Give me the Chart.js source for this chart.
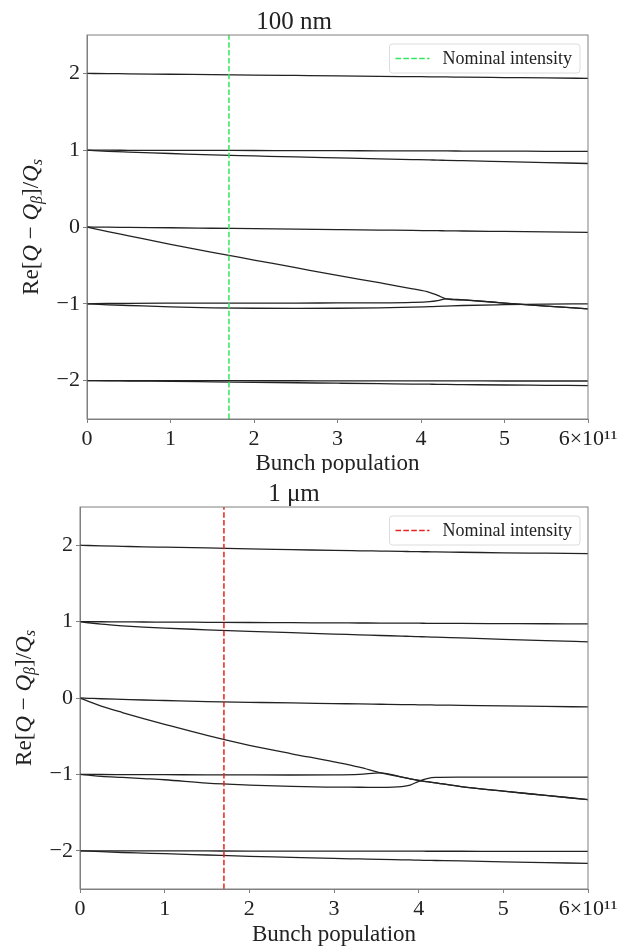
<!DOCTYPE html>
<html lang="en">
<head>
<meta charset="UTF-8">
<title>Re[Q - Q_beta]/Q_s vs bunch population</title>
<script src="https://cdn.jsdelivr.net/npm/chart.js@4.4.1/dist/chart.umd.min.js"></script>
<style>
    html, body { margin: 0; padding: 0; background: #fff; }
    .panel { width: 628px; height: 473px; }
</style>
</head>
<body>
<div class="panel"><canvas id="chart100nm" width="628" height="473"></canvas></div>
<div class="panel"><canvas id="chart1um" width="628" height="473"></canvas></div>
<script>
// ---- data (bunch population in units of 1e11) ----
const xTickValues = [0, 1, 2, 3, 4, 5, 6];
const xTickLabels = ['0', '1', '2', '3', '4', '5', '6\u00d710\u00b9\u00b9'];
const yTickValues = [-2, -1, 0, 1, 2];
const nominalIntensity = 1.7;

// 100 nm panel
const popTop = [0, 0.25, 0.5, 1, 1.5, 2, 2.5, 3, 3.5, 3.9, 4.1, 4.2, 4.3, 4.5, 5, 5.5, 6];
const top_p2  = [2.0, 1.997, 1.995, 1.989, 1.984, 1.978, 1.973, 1.968, 1.962, 1.958, 1.956, 1.955, 1.954, 1.951, 1.946, 1.941, 1.935];
const top_p1a = [1.0, 1.0, 0.999, 0.998, 0.997, 0.996, 0.995, 0.994, 0.992, 0.991, 0.99, 0.99, 0.99, 0.989, 0.988, 0.986, 0.985];
const top_p1b = [1.0, 0.985, 0.975, 0.957, 0.938, 0.925, 0.912, 0.9, 0.888, 0.878, 0.873, 0.871, 0.868, 0.863, 0.851, 0.839, 0.827];
const top_z0a = [0, -0.002, -0.005, -0.01, -0.016, -0.022, -0.028, -0.034, -0.04, -0.045, -0.047, -0.048, -0.05, -0.052, -0.058, -0.064, -0.07];
const top_z0b = [0, -0.06, -0.115, -0.225, -0.33, -0.43, -0.53, -0.63, -0.725, -0.805, -0.85, -0.89, -0.935, -0.95, -0.99, -1.03, -1.065];
const top_m1a = [-1.0, -0.996, -0.994, -0.992, -0.991, -0.99, -0.99, -0.989, -0.988, -0.982, -0.972, -0.958, -0.935, -0.95, -0.99, -1.03, -1.065];
const top_m1c = [-1.0, -1.013, -1.022, -1.04, -1.052, -1.058, -1.06, -1.058, -1.052, -1.043, -1.037, -1.034, -1.03, -1.022, -1.012, -1.005, -1.0];
const top_m2a = [-2.0, -2.0, -2.0, -2.001, -2.001, -2.002, -2.002, -2.003, -2.003, -2.004, -2.004, -2.004, -2.004, -2.004, -2.005, -2.005, -2.005];
const top_m2b = [-2.0, -2.002, -2.005, -2.01, -2.016, -2.022, -2.028, -2.034, -2.04, -2.045, -2.047, -2.048, -2.05, -2.052, -2.057, -2.061, -2.065];

// 1 um panel
const popBot = [0, 0.1, 0.25, 0.5, 0.75, 1, 1.5, 2, 2.5, 3, 3.3, 3.55, 3.8, 3.9, 4.0, 4.1, 4.2, 4.5, 5, 5.5, 6];
const bot_p2  = [2.0, 1.996, 1.991, 1.985, 1.979, 1.974, 1.964, 1.951, 1.942, 1.932, 1.927, 1.923, 1.919, 1.917, 1.915, 1.914, 1.912, 1.908, 1.9, 1.895, 1.89];
const bot_p1a = [1.0, 0.999, 0.998, 0.997, 0.995, 0.994, 0.991, 0.988, 0.986, 0.983, 0.982, 0.981, 0.98, 0.979, 0.979, 0.978, 0.978, 0.976, 0.974, 0.972, 0.97];
const bot_p1b = [1.0, 0.985, 0.966, 0.944, 0.927, 0.914, 0.893, 0.872, 0.855, 0.837, 0.827, 0.818, 0.81, 0.806, 0.803, 0.8, 0.796, 0.786, 0.768, 0.751, 0.735];
const bot_z0a = [0, -0.004, -0.01, -0.018, -0.026, -0.033, -0.047, -0.056, -0.065, -0.073, -0.078, -0.082, -0.086, -0.087, -0.089, -0.09, -0.092, -0.096, -0.104, -0.11, -0.117];
const bot_z0b = [0, -0.045, -0.105, -0.19, -0.27, -0.345, -0.49, -0.62, -0.73, -0.835, -0.905, -0.98, -1.035, -1.06, -1.08, -1.095, -1.11, -1.16, -1.22, -1.275, -1.33];
const bot_m1a = [-1.0, -1.0, -1.001, -1.002, -1.003, -1.004, -1.006, -1.007, -1.008, -1.007, -1.0, -0.98, -1.035, -1.06, -1.08, -1.095, -1.11, -1.16, -1.22, -1.275, -1.33];
const bot_m1c = [-1.0, -1.01, -1.025, -1.04, -1.055, -1.07, -1.115, -1.14, -1.157, -1.167, -1.168, -1.17, -1.16, -1.14, -1.09, -1.055, -1.04, -1.036, -1.035, -1.035, -1.035];
const bot_m2a = [-2.0, -2.0, -2.0, -2.001, -2.001, -2.001, -2.002, -2.003, -2.003, -2.004, -2.004, -2.005, -2.005, -2.005, -2.005, -2.006, -2.006, -2.006, -2.007, -2.007, -2.008];
const bot_m2b = [-2.0, -2.005, -2.012, -2.022, -2.03, -2.038, -2.055, -2.072, -2.085, -2.1, -2.107, -2.113, -2.118, -2.12, -2.123, -2.125, -2.127, -2.133, -2.145, -2.155, -2.165];

// ---- styling ----
const SERIF = "'Liberation Serif', 'DejaVu Serif', serif";
const TEXT = '#222';
const FRAME = '#808080';

// pieces of the y label: Re[Q − Q_β]/Q_s
const yLabelParts = [
    { t: 'Re[', it: false, sub: false },
    { t: 'Q', it: true, sub: false },
    { t: ' \u2212 ', it: false, sub: false },
    { t: 'Q', it: true, sub: false },
    { t: '\u03b2', it: true, sub: true },
    { t: ']/', it: false, sub: false },
    { t: 'Q', it: true, sub: false },
    { t: 's', it: true, sub: true }
];

function modeDataset(xs, ys) {
    return {
        data: xs.map((x, i) => ({ x: x, y: ys[i] })),
        borderColor: TEXT,
        borderWidth: 1.3,
        pointRadius: 0,
        cubicInterpolationMode: 'monotone',
        fill: false
    };
}

function nominalDataset(color) {
    return {
        data: [{ x: nominalIntensity, y: -2.5 }, { x: nominalIntensity, y: 2.5 }],
        borderColor: color,
        borderWidth: 1.5,
        borderDash: [5.5, 2.4],
        pointRadius: 0,
        fill: false,
        order: -1
    };
}

// frame, y label and legend box
const decorPlugin = {
    id: 'decor',
    afterDraw(chart, args, opts) {
        const ctx = chart.ctx;
        const a = chart.chartArea;
        ctx.save();
        ctx.strokeStyle = FRAME;
        ctx.lineWidth = 1;
        ctx.strokeRect(a.left, a.top, a.right - a.left, a.bottom - a.top);

        // y axis label
        const size = 23;
        const subSize = 16;
        const fontFor = p => (p.it ? 'italic ' : '') + (p.sub ? subSize : size) + 'px ' + SERIF;
        let total = 0;
        yLabelParts.forEach(p => { ctx.font = fontFor(p); total += ctx.measureText(p.t).width; });
        ctx.translate(opts.labelX, (a.top + a.bottom) / 2);
        ctx.rotate(-Math.PI / 2);
        ctx.fillStyle = TEXT;
        ctx.textBaseline = 'alphabetic';
        let x = -total / 2;
        yLabelParts.forEach(p => {
            ctx.font = fontFor(p);
            ctx.fillText(p.t, x, p.sub ? 11 : 7);
            x += ctx.measureText(p.t).width;
        });
        ctx.restore();

        // legend
        ctx.save();
        ctx.font = '18px ' + SERIF;
        const label = 'Nominal intensity';
        const tw = ctx.measureText(label).width;
        const w = tw + 61, h = 29;
        const x0 = a.right - 8 - w, y0 = a.top + 9;
        ctx.beginPath();
        ctx.roundRect(x0, y0, w, h, 3);
        ctx.fillStyle = 'rgba(255,255,255,0.85)';
        ctx.fill();
        ctx.strokeStyle = '#dcdcdc';
        ctx.lineWidth = 1;
        ctx.stroke();
        ctx.beginPath();
        ctx.setLineDash([5.5, 2.4]);
        ctx.strokeStyle = opts.color;
        ctx.lineWidth = 1.5;
        ctx.moveTo(x0 + 6, y0 + h / 2);
        ctx.lineTo(x0 + 40, y0 + h / 2);
        ctx.stroke();
        ctx.setLineDash([]);
        ctx.fillStyle = TEXT;
        ctx.textBaseline = 'middle';
        ctx.fillText(label, x0 + 53, y0 + h / 2 + 1);
        ctx.restore();
    }
};

function makeChart(id, title, xs, series, color, cfg) {
    const datasets = [nominalDataset(color)].concat(series.map(ys => modeDataset(xs, ys)));
    return new Chart(document.getElementById(id), {
        type: 'line',
        data: { datasets: datasets },
        plugins: [decorPlugin],
        options: {
            responsive: false,
            animation: false,
            devicePixelRatio: 1,
            layout: { padding: { left: 0, right: 40, top: 0, bottom: 0 } },
            plugins: {
                legend: { display: false },
                tooltip: { enabled: false },
                title: {
                    display: true,
                    text: title,
                    color: TEXT,
                    font: { family: SERIF, size: 25, weight: 'normal', lineHeight: 1 },
                    padding: { top: cfg.titleTop, bottom: 0 }
                },
                decor: { labelX: cfg.labelX, color: color }
            },
            scales: {
                x: {
                    type: 'linear',
                    min: 0,
                    max: 6,
                    afterBuildTicks: s => { s.ticks = xTickValues.map(v => ({ value: v })); },
                    afterFit: s => { s.height = cfg.xAxisH; },
                    ticks: {
                        autoSkip: false,
                        maxRotation: 0,
                        padding: 3,
                        color: TEXT,
                        font: { family: SERIF, size: 22 },
                        callback: v => xTickLabels[xTickValues.indexOf(v)]
                    },
                    grid: { drawOnChartArea: false, tickLength: 4, color: FRAME },
                    border: { color: FRAME },
                    title: {
                        display: true,
                        text: 'Bunch population',
                        color: TEXT,
                        font: { family: SERIF, size: 23, lineHeight: 0.75 },
                        padding: { top: 0, bottom: cfg.xTitlePad }
                    }
                },
                y: {
                    type: 'linear',
                    min: -2.5,
                    max: 2.5,
                    afterBuildTicks: s => { s.ticks = yTickValues.map(v => ({ value: v })); },
                    afterFit: s => { s.width = cfg.yAxisW; },
                    ticks: {
                        padding: 3,
                        color: TEXT,
                        font: { family: SERIF, size: 22 },
                        callback: v => (v < 0 ? '\u2212' + Math.abs(v) : String(v))
                    },
                    grid: { drawOnChartArea: false, tickLength: 4, color: FRAME },
                    border: { color: FRAME }
                }
            }
        }
    });
}

makeChart('chart100nm', '100 nm', popTop,
    [top_p2, top_p1a, top_p1b, top_z0a, top_z0b, top_m1a, top_m1c, top_m2a, top_m2b],
    '#33e85a', { titleTop: 10, xAxisH: 54, yAxisW: 87, labelX: 31, xTitlePad: 0 });

makeChart('chart1um', '1 \u03bcm', popBot,
    [bot_p2, bot_p1a, bot_p1b, bot_z0a, bot_z0b, bot_m1a, bot_m1c, bot_m2a, bot_m2b],
    '#e8221e', { titleTop: 9, xAxisH: 57, yAxisW: 80, labelX: 24, xTitlePad: 2 });
</script>
</body>
</html>
